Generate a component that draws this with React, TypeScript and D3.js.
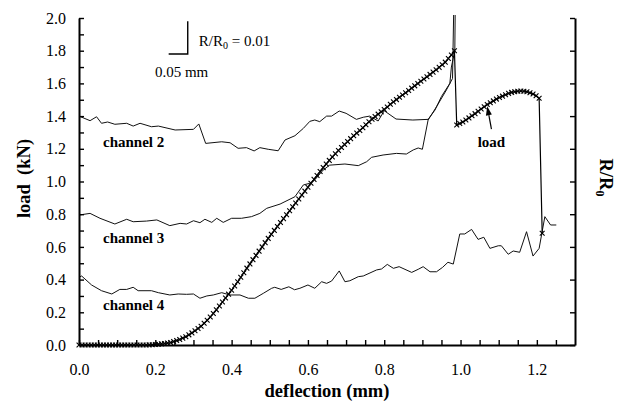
import React, { useEffect, useRef } from 'react';
import * as d3 from 'd3';

// load curve, sampled every 0.008 mm
const loadStep = 0.008;
const loadRiseStart = 0;
const loadRise = [
    0, 0, 0, 0, 0, 0, 0, 0, 0, 0, 0, 0, 0, 0, 0, 0, 0, 0, 0, 0, 0, 0, 0,
    0.001, 0.002, 0.003, 0.005, 0.007, 0.009, 0.012, 0.015, 0.021, 0.027,
    0.034, 0.042, 0.050, 0.062, 0.074, 0.087, 0.101, 0.115, 0.133, 0.151,
    0.171, 0.193, 0.215, 0.239, 0.263, 0.287, 0.311, 0.335, 0.361, 0.387,
    0.414, 0.442, 0.470, 0.496, 0.522, 0.548, 0.574, 0.600, 0.626, 0.652,
    0.677, 0.701, 0.725, 0.749, 0.773, 0.797, 0.821, 0.845, 0.869, 0.893,
    0.917, 0.941, 0.965, 0.989, 1.013, 1.037, 1.061, 1.085, 1.107, 1.129,
    1.150, 1.170, 1.190, 1.208, 1.226, 1.244, 1.262, 1.280, 1.296, 1.312,
    1.329, 1.347, 1.365, 1.381, 1.397, 1.412, 1.426, 1.440, 1.456, 1.472,
    1.487, 1.501, 1.515, 1.529, 1.543, 1.557, 1.571, 1.585, 1.599, 1.613,
    1.627, 1.641, 1.655, 1.669, 1.683, 1.698, 1.714, 1.730, 1.752, 1.774, 1.800,
];
const loadAfterStart = 0.99;
const loadAfter = [
    1.346, 1.355, 1.364, 1.376, 1.389, 1.402, 1.415, 1.429, 1.443, 1.457,
    1.471, 1.482, 1.493, 1.504, 1.514, 1.522, 1.531, 1.539, 1.545, 1.549,
    1.552, 1.553, 1.552, 1.549, 1.543, 1.535, 1.524, 1.509, 0.683,
];

// resistance channels (plotted on the right-hand scale)
const ch2Deflection = [0, 0.029, 0.046, 0.059, 0.075, 0.094, 0.125, 0.142, 0.16, 0.19, 0.208, 0.252, 0.30, 0.314, 0.332, 0.374, 0.396, 0.417, 0.439, 0.459, 0.474, 0.496, 0.522, 0.54, 0.566, 0.588, 0.605, 0.618, 0.631, 0.649, 0.662, 0.682, 0.70, 0.727, 0.745, 0.762, 0.784, 0.80, 0.831, 0.875, 0.915, 0.933, 0.95, 0.972, 0.976, 0.985, 0.987];
const ch2Value = [1.40, 1.372, 1.396, 1.356, 1.364, 1.350, 1.356, 1.339, 1.356, 1.335, 1.339, 1.315, 1.319, 1.352, 1.233, 1.243, 1.237, 1.203, 1.207, 1.187, 1.207, 1.197, 1.188, 1.254, 1.280, 1.325, 1.368, 1.376, 1.366, 1.40, 1.40, 1.431, 1.417, 1.38, 1.393, 1.40, 1.37, 1.433, 1.382, 1.376, 1.38, 1.437, 1.52, 1.60, 1.70, 1.80, 2.3];

const ch3Deflection = [0, 0.029, 0.055, 0.094, 0.125, 0.142, 0.177, 0.204, 0.238, 0.265, 0.282, 0.30, 0.317, 0.33, 0.348, 0.361, 0.378, 0.40, 0.426, 0.452, 0.474, 0.492, 0.527, 0.566, 0.588, 0.605, 0.618, 0.64, 0.657, 0.697, 0.732, 0.754, 0.767, 0.797, 0.832, 0.858, 0.876, 0.889, 0.90, 0.915, 0.937, 0.963, 0.979, 0.984];
const ch3Value = [0.795, 0.805, 0.775, 0.740, 0.769, 0.754, 0.758, 0.765, 0.730, 0.744, 0.74, 0.760, 0.748, 0.769, 0.750, 0.775, 0.750, 0.775, 0.775, 0.785, 0.805, 0.836, 0.862, 0.907, 0.979, 0.989, 1.01, 1.07, 1.10, 1.107, 1.097, 1.121, 1.148, 1.162, 1.172, 1.168, 1.193, 1.205, 1.197, 1.376, 1.457, 1.56, 1.63, 2.3];

const ch4Deflection = [0, 0.007, 0.033, 0.059, 0.086, 0.107, 0.125, 0.142, 0.155, 0.19, 0.208, 0.238, 0.26, 0.282, 0.30, 0.317, 0.335, 0.352, 0.374, 0.396, 0.422, 0.444, 0.461, 0.483, 0.505, 0.513, 0.53, 0.55, 0.565, 0.579, 0.60, 0.618, 0.636, 0.649, 0.662, 0.682, 0.697, 0.71, 0.732, 0.745, 0.78, 0.793, 0.808, 0.824, 0.839, 0.872, 0.889, 0.902, 0.92, 0.937, 0.953, 0.967, 0.981, 0.998, 1.011, 1.029, 1.046, 1.061, 1.077, 1.099, 1.107, 1.125, 1.138, 1.155, 1.173, 1.19, 1.206, 1.221, 1.236, 1.251];
const ch4Value = [0.414, 0.422, 0.367, 0.332, 0.312, 0.340, 0.340, 0.353, 0.332, 0.332, 0.320, 0.306, 0.312, 0.31, 0.312, 0.286, 0.30, 0.306, 0.32, 0.306, 0.306, 0.286, 0.286, 0.316, 0.347, 0.353, 0.34, 0.356, 0.338, 0.347, 0.367, 0.347, 0.387, 0.377, 0.391, 0.453, 0.387, 0.393, 0.418, 0.422, 0.459, 0.465, 0.493, 0.469, 0.479, 0.444, 0.463, 0.479, 0.448, 0.448, 0.475, 0.506, 0.495, 0.679, 0.679, 0.707, 0.646, 0.659, 0.591, 0.607, 0.607, 0.555, 0.575, 0.567, 0.693, 0.544, 0.591, 0.785, 0.734, 0.734];

const xTickLabels = ['0.0', '0.2', '0.4', '0.6', '0.8', '1.0', '1.2'];
const yTickLabels = ['0.0', '0.2', '0.4', '0.6', '0.8', '1.0', '1.2', '1.4', '1.6', '1.8', '2.0'];

const serif = '"Liberation Serif", "Times New Roman", Times, serif';

const App = () => {
    const chartRef = useRef<SVGSVGElement>(null);

    useEffect(() => {
        if (!chartRef.current) return;
        const svg = d3.select(chartRef.current);
        svg.selectAll('*').remove();

        const width = 623;
        const height = 404;
        const margin = { top: 18, right: 48, bottom: 59, left: 79 };

        const x = d3.scaleLinear().domain([0, 1.3]).range([margin.left, width - margin.right]);
        const y = d3.scaleLinear().domain([0, 2]).range([height - margin.bottom, margin.top]);

        svg.append('rect').attr('width', width).attr('height', height).attr('fill', 'white');

        svg.append('clipPath').attr('id', 'plot-clip')
            .append('rect')
            .attr('x', x(0) - 5).attr('y', y(2) - 3)
            .attr('width', x(1.3) - x(0) + 5).attr('height', y(0) - y(2) + 10);

        const plot = svg.append('g').attr('clip-path', 'url(#plot-clip)');

        const lineGen = d3.line<[number, number]>()
            .x(d => x(d[0]))
            .y(d => y(d[1]));

        // channels
        const channels = [
            ch2Deflection.map((d, i) => [d, ch2Value[i]] as [number, number]),
            ch3Deflection.map((d, i) => [d, ch3Value[i]] as [number, number]),
            ch4Deflection.map((d, i) => [d, ch4Value[i]] as [number, number]),
        ];
        channels.forEach(pts => {
            plot.append('path')
                .datum(pts)
                .attr('fill', 'none')
                .attr('stroke', '#111')
                .attr('stroke-width', 1)
                .attr('stroke-linejoin', 'round')
                .attr('d', lineGen);
        });

        // load line with x markers
        const loadPts: [number, number][] = [
            ...loadRise.map((v, i) => [loadRiseStart + i * loadStep, v] as [number, number]),
            ...loadAfter.map((v, i) => [loadAfterStart + i * loadStep, v] as [number, number]),
        ];
        plot.append('path')
            .datum(loadPts)
            .attr('fill', 'none')
            .attr('stroke', '#000')
            .attr('stroke-width', 1.2)
            .attr('d', lineGen);

        const s = 2.4;
        plot.append('g').selectAll('path')
            .data(loadPts)
            .enter()
            .append('path')
            .attr('transform', d => `translate(${x(d[0])},${y(d[1])})`)
            .attr('d', `M${-s},${-s}L${s},${s}M${-s},${s}L${s},${-s}`)
            .attr('stroke', '#000')
            .attr('stroke-width', 1.1)
            .attr('fill', 'none');

        // axes
        const styleAxis = (g: any) => {
            g.select('.domain').attr('stroke', '#000').attr('stroke-width', 2);
            g.selectAll('.tick line').attr('stroke', '#000').attr('stroke-width', 1.4);
            g.selectAll('text')
                .attr('font-family', serif)
                .attr('font-size', 16)
                .attr('fill', '#000');
        };

        svg.append('g')
            .attr('transform', `translate(0,${y(0)})`)
            .call(d3.axisBottom(x)
                .tickValues(d3.range(26).map(i => i * 0.05))
                .tickSize(-5)
                .tickSizeOuter(0)
                .tickPadding(18.5)
                .tickFormat((d, i) => (i % 4 === 0 ? xTickLabels[i / 4] : '')))
            .call(styleAxis);

        svg.append('g')
            .attr('transform', `translate(${x(0)},0)`)
            .call(d3.axisLeft(y)
                .tickValues(d3.range(21).map(i => i / 10))
                .tickSize(-5)
                .tickSizeOuter(0)
                .tickPadding(13)
                .tickFormat((d, i) => (i % 2 === 0 ? yTickLabels[i / 2] : '')))
            .call(styleAxis);

        svg.append('g')
            .attr('transform', `translate(${x(1.3)},0)`)
            .call(d3.axisRight(y)
                .tickValues(d3.range(11).map(i => i / 5))
                .tickSize(-5)
                .tickSizeOuter(0)
                .tickFormat(() => ''))
            .call(styleAxis);

        // axis titles
        svg.append('text')
            .attr('x', (x(0) + x(1.3)) / 2)
            .attr('y', 397)
            .attr('text-anchor', 'middle')
            .attr('font-family', serif)
            .attr('font-weight', 'bold')
            .attr('font-size', 18.5)
            .text('deflection (mm)');

        svg.append('text')
            .attr('transform', `translate(30,${(y(0) + y(2)) / 2 - 3}) rotate(-90)`)
            .attr('text-anchor', 'middle')
            .attr('font-family', serif)
            .attr('font-weight', 'bold')
            .attr('font-size', 18.5)
            .style('white-space', 'pre')
            .text('load  (kN)');

        const rLabel = svg.append('text')
            .attr('transform', `translate(600,${(y(0) + y(2)) / 2 - 4}) rotate(90)`)
            .attr('text-anchor', 'middle')
            .attr('font-family', serif)
            .attr('font-weight', 'bold')
            .attr('font-size', 18.5);
        rLabel.append('tspan').text('R/R');
        rLabel.append('tspan').attr('font-size', 12).attr('dy', 4).text('0');

        // channel labels
        const labels = [
            { text: 'channel 2', d: 0.063, v: 1.211 },
            { text: 'channel 3', d: 0.063, v: 0.624 },
            { text: 'channel 4', d: 0.063, v: 0.214 },
            { text: 'load', d: 1.045, v: 1.211 },
        ];
        svg.selectAll('.series-label')
            .data(labels)
            .enter()
            .append('text')
            .attr('class', 'series-label')
            .attr('x', d => x(d.d))
            .attr('y', d => y(d.v))
            .attr('font-family', serif)
            .attr('font-weight', 'bold')
            .attr('font-size', 15)
            .text(d => d.text);

        // arrow from "load" label to the curve
        const tail = [x(1.081), y(1.32)];
        const tip = [x(1.07), y(1.46)];
        const ang = Math.atan2(tip[1] - tail[1], tip[0] - tail[0]);
        const hl = 9, hw = 3;
        const bx = tip[0] - hl * Math.cos(ang), by = tip[1] - hl * Math.sin(ang);
        svg.append('line')
            .attr('x1', tail[0]).attr('y1', tail[1])
            .attr('x2', bx).attr('y2', by)
            .attr('stroke', '#000').attr('stroke-width', 1.2);
        svg.append('path')
            .attr('d', `M${tip[0]},${tip[1]}L${bx + hw * Math.sin(ang)},${by - hw * Math.cos(ang)}L${bx - hw * Math.sin(ang)},${by + hw * Math.cos(ang)}Z`)
            .attr('fill', '#000');

        // scale bar: 0.05 mm horizontally, R/R0 = 0.01 vertically
        const corner = [0.285, 1.78];
        svg.append('path')
            .attr('d', `M${x(corner[0] - 0.05)},${y(corner[1])}H${x(corner[0])}V${y(corner[1] + 0.2)}`)
            .attr('fill', 'none')
            .attr('stroke', '#000')
            .attr('stroke-width', 1.4);

        const ratioText = svg.append('text')
            .attr('x', x(0.314))
            .attr('y', y(1.826))
            .attr('font-family', serif)
            .attr('font-size', 15);
        ratioText.append('tspan').text('R/R');
        ratioText.append('tspan').attr('font-size', 10).attr('dy', 3).text('0');
        ratioText.append('tspan').attr('dy', -3).text(' = 0.01');

        svg.append('text')
            .attr('x', x(0.199))
            .attr('y', y(1.639))
            .attr('font-family', serif)
            .attr('font-size', 15)
            .text('0.05 mm');
    }, []);

    return (
        <svg
            ref={chartRef}
            width="623"
            height="404"
            style={{ position: 'absolute', left: 0, top: 0, display: 'block' }}
        ></svg>
    );
};

export default App;
